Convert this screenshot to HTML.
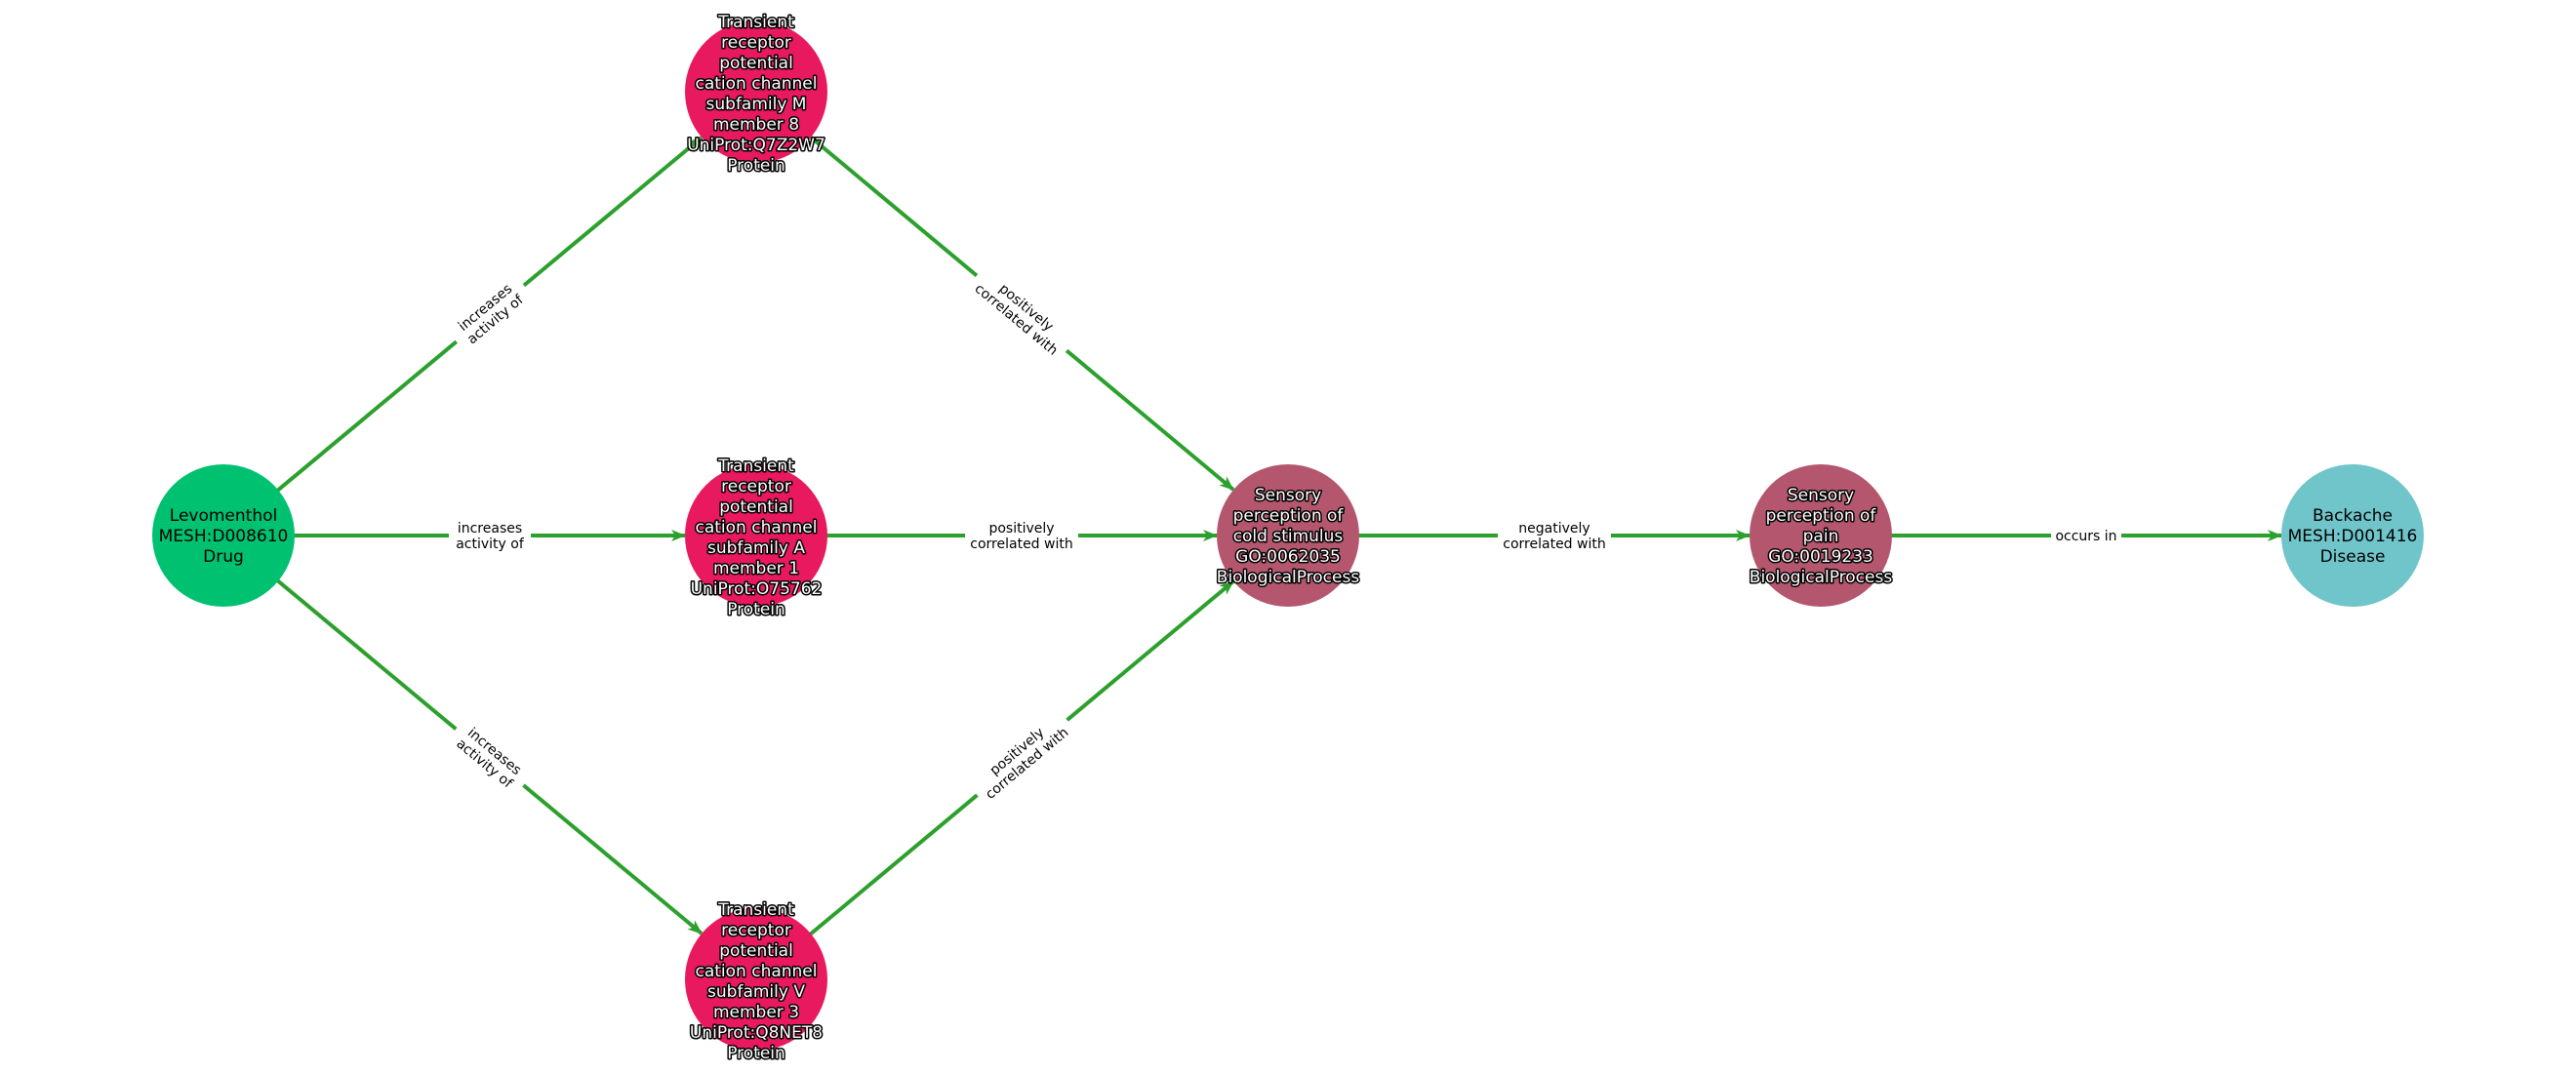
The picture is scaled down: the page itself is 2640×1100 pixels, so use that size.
<!DOCTYPE html>
<html><head><meta charset="utf-8"><style>
html,body{margin:0;padding:0;background:#fff;}
svg{display:block;}
.n{font-family:"DejaVu Sans","Liberation Sans",sans-serif;font-size:17px;text-anchor:middle;}
.h{fill:#fff;stroke:#000;stroke-width:3px;paint-order:stroke;stroke-linejoin:round;}
.e{font-family:"DejaVu Sans","Liberation Sans",sans-serif;font-size:14px;text-anchor:middle;fill:#000;}
</style></head><body>
<svg width="2640" height="1100" viewBox="0 0 2640 1100" xmlns="http://www.w3.org/2000/svg">
<defs>
<marker id="a" markerWidth="15" markerHeight="12" refX="14" refY="6" orient="auto" markerUnits="userSpaceOnUse">
<path d="M0,0 L15,6 L0,12 L4,6 Z" fill="#2ca02c"/>
</marker>
</defs>
<g stroke="#2ca02c" stroke-width="4" fill="none" marker-end="url(#a)">
<line x1="229" y1="549" x2="719" y2="141"/>
<line x1="229" y1="549" x2="702" y2="549"/>
<line x1="229" y1="549" x2="719" y2="957"/>
<line x1="775" y1="94" x2="1264" y2="502"/>
<line x1="775" y1="549" x2="1247" y2="549"/>
<line x1="775" y1="1004" x2="1264" y2="596"/>
<line x1="1320" y1="549" x2="1793" y2="549"/>
<line x1="1866" y1="549" x2="2338" y2="549"/>
</g>
<g>
<g transform="translate(502,321) rotate(-39.8)"><rect x="-45" y="-18" width="90" height="36" fill="#fff"/><text class="e" y="-3">increases</text><text class="e" y="13">activity of</text></g>
<g transform="translate(502,549)"><rect x="-42" y="-18" width="84" height="36" fill="#fff"/><text class="e" y="-3">increases</text><text class="e" y="13">activity of</text></g>
<g transform="translate(502,776) rotate(39.8)"><rect x="-45" y="-18" width="90" height="36" fill="#fff"/><text class="e" y="-3">increases</text><text class="e" y="13">activity of</text></g>
<g transform="translate(1047,321) rotate(39.8)"><rect x="-60" y="-18" width="120" height="36" fill="#fff"/><text class="e" y="-3">positively</text><text class="e" y="13">correlated with</text></g>
<g transform="translate(1047,549)"><rect x="-58" y="-18" width="116" height="36" fill="#fff"/><text class="e" y="-3">positively</text><text class="e" y="13">correlated with</text></g>
<g transform="translate(1047,776) rotate(-39.8)"><rect x="-60" y="-18" width="120" height="36" fill="#fff"/><text class="e" y="-3">positively</text><text class="e" y="13">correlated with</text></g>
<g transform="translate(1593,549)"><rect x="-58" y="-18" width="116" height="36" fill="#fff"/><text class="e" y="-3">negatively</text><text class="e" y="13">correlated with</text></g>
<g transform="translate(2138,549)"><rect x="-36" y="-10" width="72" height="20" fill="#fff"/><text class="e" y="5">occurs in</text></g>
</g>
<circle cx="229" cy="549" r="73" fill="#00c170"/>
<circle cx="775" cy="94" r="73" fill="#e8195e"/>
<circle cx="775" cy="549" r="73" fill="#e8195e"/>
<circle cx="775" cy="1004" r="73" fill="#e8195e"/>
<circle cx="1320" cy="549" r="73" fill="#b4576e"/>
<circle cx="1866" cy="549" r="73" fill="#b4576e"/>
<circle cx="2411" cy="549" r="73" fill="#70c5ca"/>
<text class="n" x="229" y="534">Levomenthol</text>
<text class="n" x="229" y="555">MESH:D008610</text>
<text class="n" x="229" y="576">Drug</text>
<g class="n h">
<text x="775" y="28">Transient</text><text x="775" y="49">receptor</text><text x="775" y="70">potential</text><text x="775" y="91">cation channel</text><text x="775" y="112">subfamily M</text><text x="775" y="133">member 8</text><text x="775" y="154">UniProt:Q7Z2W7</text><text x="775" y="175">Protein</text>
<text x="775" y="483">Transient</text><text x="775" y="504">receptor</text><text x="775" y="525">potential</text><text x="775" y="546">cation channel</text><text x="775" y="567">subfamily A</text><text x="775" y="588">member 1</text><text x="775" y="609">UniProt:O75762</text><text x="775" y="630">Protein</text>
<text x="775" y="938">Transient</text><text x="775" y="959">receptor</text><text x="775" y="980">potential</text><text x="775" y="1001">cation channel</text><text x="775" y="1022">subfamily V</text><text x="775" y="1043">member 3</text><text x="775" y="1064">UniProt:Q8NET8</text><text x="775" y="1085">Protein</text>
<text x="1320" y="513">Sensory</text><text x="1320" y="534">perception of</text><text x="1320" y="555">cold stimulus</text><text x="1320" y="576">GO:0062035</text><text x="1320" y="597">BiologicalProcess</text>
<text x="1866" y="513">Sensory</text><text x="1866" y="534">perception of</text><text x="1866" y="555">pain</text><text x="1866" y="576">GO:0019233</text><text x="1866" y="597">BiologicalProcess</text>
</g>
<text class="n" x="2411" y="534">Backache</text>
<text class="n" x="2411" y="555">MESH:D001416</text>
<text class="n" x="2411" y="576">Disease</text>
</svg>
</body></html>
